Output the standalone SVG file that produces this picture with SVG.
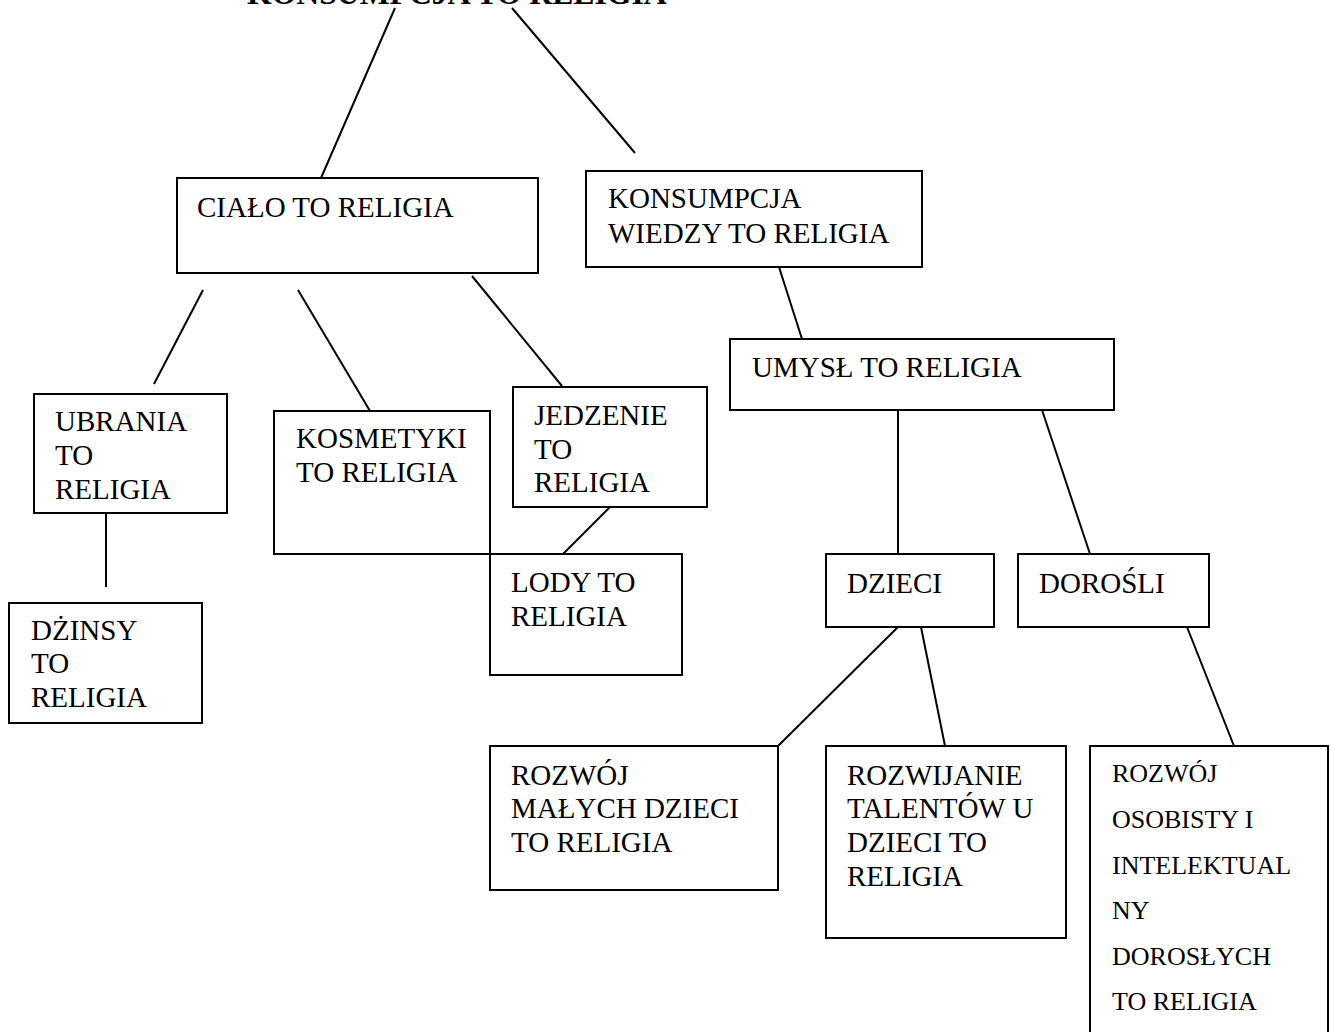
<svg xmlns="http://www.w3.org/2000/svg" width="1330" height="1032" viewBox="0 0 1330 1032">
<style>
.box{fill:#fff;stroke:#000;stroke-width:2}
.t{font-family:"Liberation Serif","Times New Roman",serif;font-size:29px;fill:#000}
.s{font-family:"Liberation Serif","Times New Roman",serif;font-size:26px;fill:#000}
.title{font-family:"Liberation Serif","Times New Roman",serif;font-size:31.7px;font-weight:bold;fill:#000}
.c line{stroke:#000;stroke-width:2}
</style>
<rect width="1330" height="1032" fill="#fff"/>
<g id="title"><text class="title" x="247" y="4">KONSUMPCJA TO RELIGIA</text></g>
<g id="cialo"><rect class="box" x="177" y="178" width="361" height="95"/><text class="t" x="197" y="217">CIAŁO TO RELIGIA</text></g>
<g id="konsumpcja-wiedzy"><rect class="box" x="586" y="171" width="336" height="96"/><text class="t" x="608" y="208">KONSUMPCJA</text><text class="t" x="608" y="243">WIEDZY TO RELIGIA</text></g>
<g id="umysl"><rect class="box" x="730" y="339" width="384" height="71"/><text class="t" x="752" y="377">UMYSŁ TO RELIGIA</text></g>
<g id="ubrania"><rect class="box" x="34" y="394" width="193" height="119"/><text class="t" x="55" y="431">UBRANIA</text><text class="t" x="55" y="465">TO</text><text class="t" x="55" y="499">RELIGIA</text></g>
<g id="dzinsy"><rect class="box" x="9" y="603" width="193" height="120"/><text class="t" x="31" y="640">DŻINSY</text><text class="t" x="31" y="673">TO</text><text class="t" x="31" y="707">RELIGIA</text></g>
<g id="kosmetyki"><rect class="box" x="274" y="411" width="216" height="143"/><text class="t" x="296" y="448">KOSMETYKI</text><text class="t" x="296" y="482">TO RELIGIA</text></g>
<g id="jedzenie"><rect class="box" x="513" y="387" width="194" height="120"/><text class="t" x="534" y="425">JEDZENIE</text><text class="t" x="534" y="459">TO</text><text class="t" x="534" y="492">RELIGIA</text></g>
<g id="lody"><rect class="box" x="490" y="554" width="192" height="121"/><text class="t" x="511" y="592">LODY TO</text><text class="t" x="511" y="626">RELIGIA</text></g>
<g id="dzieci"><rect class="box" x="826" y="554" width="168" height="73"/><text class="t" x="847" y="593">DZIECI</text></g>
<g id="dorosli"><rect class="box" x="1018" y="554" width="191" height="73"/><text class="t" x="1039" y="593">DOROŚLI</text></g>
<g id="rozwoj-malych"><rect class="box" x="490" y="746" width="288" height="144"/><text class="t" x="511" y="785">ROZWÓJ</text><text class="t" x="511" y="818">MAŁYCH DZIECI</text><text class="t" x="511" y="852">TO RELIGIA</text></g>
<g id="rozwijanie"><rect class="box" x="826" y="746" width="240" height="192"/><text class="t" x="847" y="785">ROZWIJANIE</text><text class="t" x="847" y="818">TALENTÓW U</text><text class="t" x="847" y="852">DZIECI TO</text><text class="t" x="847" y="886">RELIGIA</text></g>
<g id="rozwoj-osobisty"><rect class="box" x="1090" y="746" width="238" height="300"/><text class="s" x="1112" y="782">ROZWÓJ</text><text class="s" x="1112" y="828">OSOBISTY I</text><text class="s" x="1112" y="874">INTELEKTUAL</text><text class="s" x="1112" y="919">NY</text><text class="s" x="1112" y="965">DOROSŁYCH</text><text class="s" x="1112" y="1010">TO RELIGIA</text></g>
<g id="connectors" class="c">
<line x1="395" y1="8" x2="321" y2="178"/>
<line x1="512" y1="8" x2="635" y2="153"/>
<line x1="203" y1="290" x2="154" y2="384"/>
<line x1="298" y1="290" x2="370" y2="411"/>
<line x1="472" y1="276" x2="562" y2="386"/>
<line x1="106" y1="513" x2="106" y2="587"/>
<line x1="610" y1="507" x2="563" y2="554"/>
<line x1="779" y1="267" x2="802" y2="339"/>
<line x1="898" y1="410" x2="898" y2="554"/>
<line x1="1042" y1="410" x2="1090" y2="554"/>
<line x1="898" y1="627" x2="778" y2="746"/>
<line x1="921" y1="627" x2="945" y2="746"/>
<line x1="1187" y1="627" x2="1234" y2="746"/>
</g>
</svg>
